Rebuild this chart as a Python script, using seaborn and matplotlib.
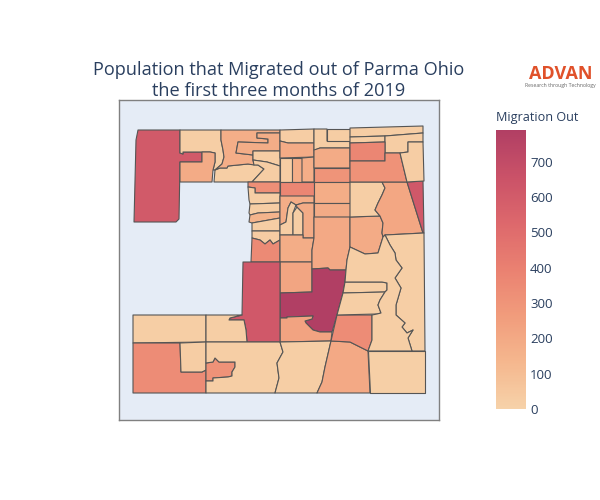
"""Migration out of Parma Ohio, census tract choropleth."""

import matplotlib

matplotlib.use("Agg")

import matplotlib.pyplot as plt
import seaborn as sns
from matplotlib.cm import ScalarMappable
from matplotlib.collections import PolyCollection
from matplotlib.colors import Normalize

# Tract outlines in map units
TRACT_SHAPES = [
    [(138, 130), (180, 130), (180, 153), (183, 154), (183, 152), (202, 152), (202, 162), (180, 162), (179, 219), (176, 222), (134, 222), (136, 140)],
    [(180, 130), (221, 130), (221, 140), (223, 150), (224, 157), (222, 164), (215, 170), (213, 170), (215, 162), (215, 153), (210, 152), (183, 152), (183, 154), (180, 153)],
    [(202, 152), (210, 152), (215, 153), (215, 162), (213, 170), (212, 182), (180, 182), (180, 162), (202, 162)],
    [(215, 170), (220, 168), (227, 168), (228, 166), (248, 164), (258, 165), (264, 169), (252, 182), (214, 182)],
    [(221, 130), (280, 130), (280, 133), (257, 133), (257, 138), (268, 139), (268, 143), (238, 142), (236, 153), (253, 155), (253, 160), (254, 165), (248, 164), (228, 166), (227, 168), (220, 168), (215, 170), (222, 164), (224, 157), (223, 150), (221, 140)],
    [(257, 133), (280, 133), (280, 151), (253, 151), (253, 155), (236, 153), (238, 142), (268, 143), (268, 139), (257, 138)],
    [(253, 151), (280, 151), (280, 166), (267, 162), (253, 160)],
    [(253, 160), (267, 162), (280, 166), (280, 182), (252, 182), (264, 169), (258, 165), (254, 165)],
    [(280, 130), (314, 129), (314, 143), (288, 143), (280, 141)],
    [(280, 141), (288, 143), (314, 143), (314, 157), (280, 158)],
    [(280, 158), (292, 158), (292, 182), (280, 182)],
    [(292, 158), (302, 158), (302, 182), (292, 182)],
    [(302, 158), (314, 157), (314, 182), (302, 182)],
    [(248, 182), (280, 182), (280, 193), (255, 193), (255, 188), (248, 187)],
    [(248, 187), (255, 188), (255, 193), (280, 193), (280, 203), (250, 204), (249, 200)],
    [(250, 204), (280, 203), (280, 212), (258, 213), (250, 215), (249, 213)],
    [(250, 215), (258, 213), (280, 212), (280, 218), (252, 223), (249, 222)],
    [(252, 223), (280, 218), (280, 231), (252, 231)],
    [(252, 231), (280, 231), (280, 240), (273, 244), (270, 240), (265, 244), (260, 240), (252, 238)],
    [(252, 238), (260, 240), (265, 244), (270, 240), (273, 244), (280, 240), (280, 262), (251, 262)],
    [(280, 182), (314, 182), (314, 196), (280, 196)],
    [(280, 196), (314, 196), (314, 203), (303, 203), (296, 205), (291, 202), (288, 208), (286, 222), (280, 225)],
    [(280, 225), (286, 222), (288, 208), (291, 202), (296, 205), (293, 213), (293, 235), (280, 235)],
    [(293, 235), (293, 213), (297, 207), (303, 213), (303, 235)],
    [(296, 205), (303, 203), (314, 203), (314, 238), (303, 238), (303, 213), (297, 207)],
    [(280, 235), (303, 235), (303, 238), (314, 238), (312, 250), (312, 262), (280, 262)],
    [(280, 262), (312, 262), (312, 269), (312, 292), (280, 293)],
    [(314, 129), (327, 129), (327, 141), (350, 141), (350, 148), (320, 148), (315, 150), (314, 150)],
    [(327, 129), (350, 129), (350, 141), (327, 141)],
    [(314, 150), (320, 148), (350, 148), (350, 168), (314, 168)],
    [(314, 168), (350, 168), (350, 182), (314, 182)],
    [(314, 182), (350, 182), (350, 203), (314, 203)],
    [(314, 203), (350, 203), (350, 217), (314, 217)],
    [(314, 217), (350, 217), (350, 247), (347, 260), (346, 270), (330, 270), (328, 268), (312, 269), (312, 250), (314, 238)],
    [(312, 269), (328, 268), (330, 270), (346, 270), (345, 282), (343, 293), (337, 315), (332, 332), (320, 332), (313, 330), (306, 323), (305, 321), (312, 319), (313, 316), (287, 317), (287, 318), (280, 318), (280, 293), (312, 292)],
    [(280, 318), (287, 318), (287, 317), (313, 316), (312, 319), (305, 321), (306, 323), (313, 330), (320, 332), (332, 332), (331, 341), (280, 342)],
    [(243, 262), (280, 262), (280, 342), (247, 342), (246, 330), (244, 320), (229, 320), (230, 318), (242, 315)],
    [(133, 315), (206, 315), (206, 342), (133, 343)],
    [(206, 315), (242, 315), (230, 318), (229, 320), (244, 320), (246, 330), (247, 342), (206, 342)],
    [(133, 343), (180, 343), (181, 372), (202, 372), (206, 370), (206, 393), (133, 393)],
    [(180, 343), (206, 342), (206, 370), (202, 372), (181, 372)],
    [(206, 363), (213, 362), (215, 358), (219, 362), (235, 362), (235, 367), (232, 372), (232, 376), (228, 377), (213, 378), (213, 381), (206, 381)],
    [(206, 342), (280, 342), (283, 352), (277, 363), (279, 378), (275, 393), (206, 393), (206, 381), (213, 381), (213, 378), (228, 377), (232, 376), (232, 372), (235, 367), (235, 362), (219, 362), (215, 358), (213, 362), (206, 363)],
    [(280, 342), (331, 341), (325, 367), (322, 382), (317, 393), (275, 393), (279, 378), (277, 363), (283, 352)],
    [(331, 341), (350, 342), (368, 351), (370, 393), (317, 393), (322, 382), (325, 367)],
    [(337, 315), (372, 315), (372, 340), (368, 351), (350, 342), (331, 341)],
    [(345, 282), (382, 282), (387, 283), (387, 290), (385, 292), (343, 293)],
    [(343, 293), (385, 292), (380, 300), (378, 305), (381, 313), (377, 314), (337, 315)],
    [(350, 217), (380, 216), (383, 223), (382, 233), (383, 237), (378, 253), (365, 254), (350, 247)],
    [(350, 182), (382, 182), (385, 188), (382, 195), (378, 203), (375, 210), (380, 216), (350, 217)],
    [(382, 182), (407, 182), (423, 233), (385, 235), (383, 237), (382, 233), (383, 223), (380, 216), (375, 210), (378, 203), (382, 195), (385, 188)],
    [(407, 182), (423, 181), (424, 233), (423, 233)],
    [(350, 128), (423, 126), (423, 133), (385, 136), (350, 137)],
    [(350, 137), (385, 136), (385, 142), (350, 143)],
    [(385, 136), (423, 133), (423, 142), (408, 142), (408, 152), (400, 153), (385, 153)],
    [(350, 143), (385, 142), (385, 161), (350, 161)],
    [(350, 161), (385, 161), (385, 153), (400, 153), (407, 182), (350, 182)],
    [(400, 153), (408, 152), (408, 142), (423, 142), (424, 181), (407, 182)],
    [(385, 235), (424, 233), (425, 351), (412, 351), (408, 338), (413, 330), (407, 333), (402, 327), (405, 323), (396, 315), (396, 305), (401, 288), (395, 278), (402, 268), (396, 260), (395, 253), (390, 245)],
    [(383, 237), (385, 235), (390, 245), (395, 253), (396, 260), (402, 268), (395, 278), (401, 288), (396, 305), (396, 315), (405, 323), (402, 327), (407, 333), (413, 330), (408, 338), (412, 351), (368, 351), (372, 340), (372, 315), (377, 314), (381, 313), (378, 305), (380, 300), (385, 292), (387, 290), (387, 283), (382, 282), (345, 282), (346, 270), (347, 260), (350, 247), (365, 254), (378, 253)],
    [(368, 351), (425, 351), (425, 393), (370, 393)],
]

# Migration out for each tract, same order as TRACT_SHAPES
MIGRATION_OUT = [
    610, 20, 190, 22, 175, 185, 25, 25, 25, 190,
    25, 180, 175, 330, 20, 25, 150, 25, 30, 350,
    370, 180, 25, 25, 190, 185, 220, 25, 25, 190,
    300, 180, 190, 200, 790, 230, 620, 20, 20, 340,
    25, 310, 20, 20, 200, 340, 20, 20, 190, 20,
    210, 620, 25, 25, 25, 370, 310, 25, 20, 20, 15,
]

CBAR_TICKS = [0, 100, 200, 300, 400, 500, 600, 700]
REDOR = ["#f6d2a9", "#f5b78e", "#f19c7c", "#ea8171", "#dd686c", "#ca5268", "#b13f64"]


def main() -> None:
    sns.set_style("white")
    plt.rcParams["font.family"] = ["Open Sans", "DejaVu Sans"]
    text_color = "#2a3f5f"
    cmap = sns.blend_palette(REDOR, as_cmap=True)
    norm = Normalize(0, 790)

    fig = plt.figure(figsize=(6, 5), dpi=100)

    ax = fig.add_axes([119 / 600, 1 - 419.5 / 500, 319.5 / 600, 319.5 / 500])
    ax.set_facecolor("#e5ecf6")
    tracts = PolyCollection(
        TRACT_SHAPES,
        array=MIGRATION_OUT,
        cmap=cmap,
        norm=norm,
        edgecolors="#555555",
        linewidths=0.8,
    )
    ax.add_collection(tracts)
    ax.set_xlim(119, 438.5)
    ax.set_ylim(419.5, 100)
    ax.set_xticks([])
    ax.set_yticks([])
    for spine in ax.spines.values():
        spine.set_color("#808080")
        spine.set_linewidth(1.0)

    fig.text(
        279 / 600,
        1 - 80.5 / 500,
        "Population that Migrated out of Parma Ohio\nthe first three months of 2019",
        ha="center",
        va="center",
        fontsize=13.1,
        color=text_color,
        linespacing=1.25,
    )

    # Colour bar on the right
    cax = fig.add_axes([496 / 600, 1 - 409 / 500, 30 / 600, 279 / 500])
    cbar = fig.colorbar(ScalarMappable(norm=norm, cmap=cmap), cax=cax)
    cbar.outline.set_visible(False)
    cbar.set_ticks(CBAR_TICKS)
    cbar.ax.tick_params(length=0, pad=3, labelsize=9.5, labelcolor=text_color)
    fig.text(496 / 600, 1 - 118 / 500, "Migration Out", ha="left", va="center", fontsize=9.1, color=text_color)

    # Logo, kept as text
    fig.text(560.5 / 600, 1 - 74 / 500, "ADVAN", ha="center", va="center", fontsize=13, fontweight="bold", color="#e0512a")
    fig.text(560.5 / 600, 1 - 86 / 500, "Research through Technology", ha="center", va="center", fontsize=3.7, color="#666666")

    fig.savefig("out.png", dpi=100)
    plt.close(fig)


if __name__ == "__main__":
    main()
